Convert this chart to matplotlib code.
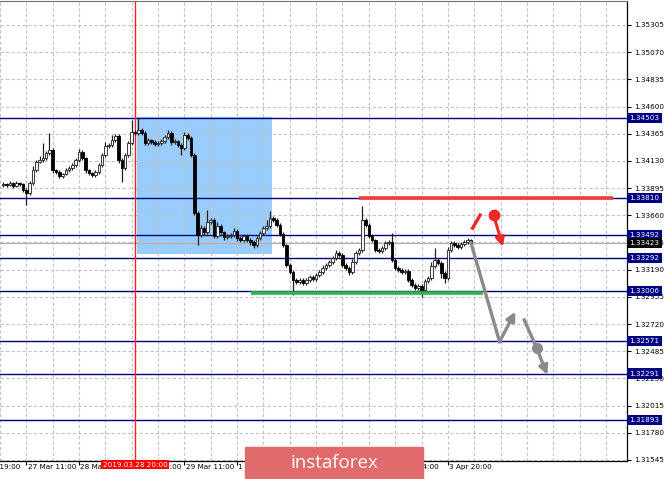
import numpy as np
import matplotlib.pyplot as plt
import matplotlib.transforms as mtransforms
from matplotlib import font_manager
from matplotlib.patches import Rectangle

# GBPUSD H1, 27 Mar - 3 Apr 2019
first_open = 1.33922
closes = [
    1.33931, 1.33922, 1.33939, 1.33913, 1.33939, 1.33931, 1.33879, 1.33853, 1.33939, 1.34052,
    1.34121, 1.34138, 1.34155, 1.34199, 1.34224, 1.34052, 1.34034, 1.34000, 1.34017, 1.34052,
    1.34069, 1.34095, 1.34138, 1.34207, 1.34155, 1.34052, 1.34026, 1.34008, 1.34034, 1.34095,
    1.34181, 1.34259, 1.34268, 1.34311, 1.34345, 1.34138, 1.34069, 1.34181, 1.34285, 1.34380,
    1.34371, 1.34397, 1.34371, 1.34285, 1.34311, 1.34294, 1.34276, 1.34285, 1.34302, 1.34337,
    1.34371, 1.34294, 1.34302, 1.34268, 1.34242, 1.34354, 1.34328, 1.34181, 1.33680, 1.33490,
    1.33550, 1.33516, 1.33602, 1.33619, 1.33481, 1.33568, 1.33516, 1.33472, 1.33481, 1.33490,
    1.33524, 1.33464, 1.33446, 1.33481, 1.33446, 1.33429, 1.33403, 1.33464, 1.33507, 1.33550,
    1.33568, 1.33637, 1.33619, 1.33576, 1.33498, 1.33403, 1.33230, 1.33170, 1.33101, 1.33083,
    1.33101, 1.33075, 1.33101, 1.33127, 1.33109, 1.33144, 1.33170, 1.33204, 1.33230, 1.33256,
    1.33291, 1.33334, 1.33317, 1.33230, 1.33204, 1.33170, 1.33256, 1.33334, 1.33360, 1.33619,
    1.33576, 1.33481, 1.33446, 1.33360, 1.33351, 1.33377, 1.33421, 1.33429, 1.33274, 1.33204,
    1.33187, 1.33170, 1.33179, 1.33101, 1.33058, 1.33032, 1.33049, 1.33014, 1.33092, 1.33118,
    1.33222, 1.33274, 1.33248, 1.33161, 1.33118, 1.33360, 1.33421, 1.33403, 1.33386, 1.33412,
    1.33429, 1.33446, 1.33423,
]
wick_up = [
    .0002, .0001, .0002, .0001, .0002, .0001, .0001, .0002, .0002, .0003,
    .0002, .0003, .0013, .0002, .0015, .0002, .0001, .0002, .0001, .0002,
    .0002, .0002, .0002, .0003, .0002, .0001, .0001, .0001, .0002, .0002,
    .0002, .0003, .0002, .0004, .0002, .0002, .0002, .0002, .0002, .0010,
    .0002, .0010, .0002, .0002, .0002, .0001, .0002, .0002, .0002, .0002,
    .0003, .0002, .0002, .0001, .0002, .0003, .0002, .0002, .0002, .0002,
    .0003, .0002, .0010, .0002, .0002, .0003, .0002, .0001, .0002, .0002,
    .0003, .0002, .0002, .0002, .0002, .0002, .0002, .0002, .0002, .0002,
    .0005, .0006, .0002, .0002, .0002, .0002, .0001, .0002, .0002, .0002,
    .0002, .0002, .0002, .0002, .0002, .0002, .0002, .0003, .0002, .0002,
    .0002, .0003, .0002, .0002, .0002, .0002, .0003, .0002, .0002, .0012,
    .0002, .0002, .0002, .0001, .0002, .0002, .0002, .0002, .0008, .0002,
    .0002, .0002, .0002, .0002, .0002, .0002, .0002, .0002, .0002, .0002,
    .0003, .0010, .0002, .0002, .0002, .0003, .0002, .0002, .0002, .0002,
    .0002, .0002, .0001,
]
wick_dn = [
    .0002, .0002, .0001, .0002, .0001, .0002, .0002, .0010, .0002, .0002,
    .0002, .0001, .0002, .0002, .0002, .0003, .0002, .0002, .0002, .0001,
    .0002, .0002, .0002, .0002, .0002, .0003, .0002, .0002, .0002, .0002,
    .0002, .0002, .0002, .0002, .0002, .0003, .0012, .0002, .0002, .0002,
    .0002, .0002, .0002, .0002, .0002, .0002, .0002, .0002, .0002, .0002,
    .0002, .0003, .0002, .0002, .0006, .0002, .0002, .0002, .0002, .0009,
    .0002, .0003, .0002, .0002, .0002, .0002, .0002, .0003, .0002, .0002,
    .0002, .0003, .0002, .0002, .0002, .0003, .0003, .0002, .0002, .0002,
    .0002, .0002, .0002, .0002, .0002, .0002, .0002, .0002, .0013, .0002,
    .0002, .0002, .0002, .0002, .0002, .0002, .0002, .0002, .0002, .0002,
    .0002, .0002, .0002, .0002, .0002, .0003, .0002, .0002, .0002, .0002,
    .0002, .0002, .0002, .0002, .0002, .0002, .0002, .0002, .0002, .0002,
    .0002, .0002, .0002, .0002, .0002, .0002, .0002, .0006, .0002, .0002,
    .0002, .0002, .0002, .0004, .0004, .0002, .0002, .0002, .0002, .0002,
    .0002, .0002, .0001,
]

price_ticks = [1.35305, 1.35070, 1.34835, 1.34600, 1.34365, 1.34130, 1.33895, 1.33660, 1.33425,
               1.33190, 1.32955, 1.32720, 1.32485, 1.32250, 1.32015, 1.31780, 1.31545]
levels = [1.34503, 1.33810, 1.33492, 1.33292, 1.33006, 1.32571, 1.32291, 1.31893]
last_price = 1.33423
time_ticks = [-10, 7, 23, 39, 55, 71, 87, 103, 119, 135]
time_labels = ['26 Mar 19:00', '27 Mar 11:00', '28 Mar 03:00', '28 Mar 19:00', '29 Mar 11:00',
               '1 Apr 03:00', '1 Apr 19:00', '2 Apr 11:00', '3 Apr 04:00', '3 Apr 20:00']
marker_bar, marker_label = 40, '2019.03.28 20:00'

# drawn objects
zone_bars, zone_prices = (40.6, 81.5), (1.33325, 1.34510)
resist_bars, resist_price = (107.9, 185.2), 1.33810
support_bars, support_price = (75.2, 145.8), 1.32986
red_stroke_bars, red_stroke_prices = [142.5, 144.8], [1.33548, 1.33662]
red_arrow_bars, red_arrow_prices = [148.9, 151.7], [1.33662, 1.33389]
gray_path_bars, gray_path_prices = [142.0, 150.7, 155.5], [1.33423, 1.32567, 1.32827]
gray_path2_bars, gray_path2_prices = [158.2, 162.0, 165.2], [1.32755, 1.32510, 1.32280]

names = {f.name for f in font_manager.fontManager.ttflist}
if 'Liberation Sans Narrow' in names:
    small_font, small_size = 'Liberation Sans Narrow', 6.8
else:
    small_font, small_size = 'DejaVu Sans', 5.2

fig = plt.figure(figsize=(6.65, 4.79), dpi=100)
ax = fig.add_axes([0, 18 / 479, 627 / 665, 460 / 479])
ax.set_xlim(-0.606, 189.4)
ax.set_ylim(1.31536, 1.35512)

# candles
closes = np.array(closes)
opens = np.concatenate([[first_open], closes[:-1]])
highs = np.maximum(opens, closes) + np.array(wick_up)
lows = np.minimum(opens, closes) - np.array(wick_dn)
idx = np.arange(len(closes))
up = closes >= opens
ax.vlines(idx, lows, highs, color='#202020', lw=0.9, zorder=3)
body = np.maximum(np.abs(closes - opens), 0.00005)
ax.bar(idx[up], body[up], bottom=opens[up], width=0.78, color='#f4f4f4',
       edgecolor='#202020', lw=0.6, zorder=4)
ax.bar(idx[~up], body[~up], bottom=closes[~up], width=0.78, color='black',
       edgecolor='black', lw=0.6, zorder=4)

# grid
ax.set_axisbelow(True)
ax.yaxis.tick_right()
ax.set_yticks(price_ticks)
ax.set_yticklabels([f'{p:.5f}' for p in price_ticks], fontsize=small_size, family=small_font)
ax.tick_params(axis='y', length=3, pad=2, width=0.8)
ax.set_xticks([t for t in time_ticks if t >= 0])
ax.set_xticklabels([])
ax.set_xticks(np.arange(-1, 190, 8), minor=True)
ax.tick_params(axis='x', which='major', length=3, width=0.8)
ax.tick_params(axis='x', which='minor', length=0)
ax.grid(True, which='both', axis='x', color='#c4c4c4', ls=(0, (3, 2)), lw=0.8)
ax.grid(True, which='major', axis='y', color='#c4c4c4', ls=(0, (3, 2)), lw=0.8)

ax.add_patch(Rectangle((zone_bars[0], zone_prices[0]), zone_bars[1] - zone_bars[0],
                       zone_prices[1] - zone_prices[0], color='#99ccff', zorder=0.3, lw=0))

for lv in levels:
    ax.axhline(lv, color='#000080', lw=1, zorder=2)
ax.axhline(last_price, color='#b0b0b0', lw=0.8, zorder=1.5)
ax.axvline(marker_bar, color='#ff2020', lw=1, zorder=2)

ax.plot(resist_bars, [resist_price] * 2, color='#f03c3c', lw=2.6, zorder=5, solid_capstyle='butt')
ax.plot(support_bars, [support_price] * 2, color='#2fb34c', lw=2.6, zorder=5, solid_capstyle='butt')

# red scenario
ax.plot(red_stroke_bars, red_stroke_prices, color='#f02828', lw=2.4, zorder=6)
ax.plot(red_arrow_bars[0], red_arrow_prices[0], 'o', color='#f02828', ms=7.5, zorder=6)
ax.annotate('', xy=(red_arrow_bars[1], red_arrow_prices[1]),
            xytext=(red_arrow_bars[0], red_arrow_prices[0]),
            arrowprops=dict(arrowstyle='-|>', color='#f02828', lw=2.2, mutation_scale=13,
                            shrinkA=0, shrinkB=0), zorder=6)

# gray scenario
gcol = '#8a8a8a'
ax.plot(gray_path_bars[:2], gray_path_prices[:2], color=gcol, lw=2.4, zorder=6)
ax.annotate('', xy=(gray_path_bars[2], gray_path_prices[2]),
            xytext=(gray_path_bars[1], gray_path_prices[1]),
            arrowprops=dict(arrowstyle='-|>', color=gcol, lw=2.4, mutation_scale=13,
                            shrinkA=0, shrinkB=0), zorder=6)
ax.plot(gray_path2_bars[:2], gray_path2_prices[:2], color=gcol, lw=2.4, zorder=6)
ax.plot(gray_path2_bars[1], gray_path2_prices[1], 'o', color=gcol, ms=7, zorder=6)
ax.annotate('', xy=(gray_path2_bars[2], gray_path2_prices[2]),
            xytext=(gray_path2_bars[1], gray_path2_prices[1]),
            arrowprops=dict(arrowstyle='-|>', color=gcol, lw=2.4, mutation_scale=13,
                            shrinkA=0, shrinkB=0), zorder=6)

# spines
ax.spines['left'].set_visible(False)
ax.spines['top'].set_color('#707070')
for s in ['right', 'bottom']:
    ax.spines[s].set_color('black')
    ax.spines[s].set_linewidth(0.9)

# time labels
tr_x = mtransforms.blended_transform_factory(ax.transData, ax.transAxes)
for t, lab in zip(time_ticks, time_labels):
    ax.text(t + 0.4, -0.006, lab, transform=tr_x, ha='left', va='top',
            fontsize=small_size, family=small_font, clip_on=False)
ax.text(marker_bar, -0.002, marker_label, transform=tr_x, ha='center', va='top', color='white',
        fontsize=small_size, family=small_font, clip_on=False, zorder=10,
        bbox=dict(boxstyle='square,pad=0.2', fc='#ff0000', ec='none'))

# price boxes
tr_y = mtransforms.blended_transform_factory(ax.transAxes, ax.transData)
for lv in levels:
    ax.text(1.004, lv, f'{lv:.5f}', transform=tr_y, ha='left', va='center', color='white',
            fontsize=small_size, family=small_font, clip_on=False, zorder=10,
            bbox=dict(boxstyle='square,pad=0.3', fc='#000080', ec='none'))
ax.text(1.004, last_price, f'{last_price:.5f}', transform=tr_y, ha='left', va='center',
        color='white', fontsize=small_size, family=small_font, clip_on=False, zorder=11,
        bbox=dict(boxstyle='square,pad=0.3', fc='black', ec='none'))

# watermark
fig.patches.append(Rectangle((245 / 665, 0), 178 / 665, 32 / 479, transform=fig.transFigure,
                             color='#e06a6c', zorder=20))
fig.text(334 / 665, 16 / 479, 'instaforex', color='white', fontsize=13.5, family='Open Sans',
         ha='center', va='center', zorder=21)

fig.savefig('out.png', dpi=100)
